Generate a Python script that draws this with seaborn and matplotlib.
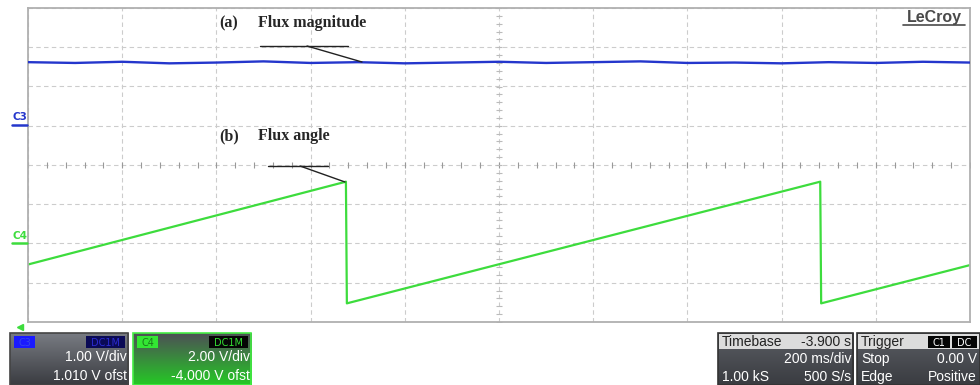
import numpy as np
import matplotlib
matplotlib.use("Agg")
import matplotlib.pyplot as plt
import seaborn as sns
from matplotlib.patches import Rectangle
from matplotlib.colors import LinearSegmentedColormap

# C3 : flux magnitude (V), 200 ms/div
mag_t = [0.0, 0.1, 0.2, 0.3, 0.4, 0.5, 0.6, 0.7, 0.8, 0.9, 1.0,
         1.1, 1.2, 1.3, 1.4, 1.5, 1.6, 1.7, 1.8, 1.9, 2.0]
mag_v = [1.62, 1.60, 1.63, 1.59, 1.61, 1.64, 1.60, 1.62, 1.59, 1.61, 1.63,
         1.60, 1.62, 1.64, 1.60, 1.61, 1.59, 1.62, 1.60, 1.63, 1.61]

# C4 : flux angle (V ~ rad), sawtooth between -pi and pi
ang_t = [0.0, 0.675, 0.677, 1.682, 1.684, 2.0]
ang_v = [-1.07, 3.15, -3.05, 3.15, -3.05, -1.10]

# channel settings shown on the scope
c3_vdiv, c3_marker = 1.0, 1      # ground marker 1 div above centre
c4_vdiv, c4_marker = 2.0, -2     # ground marker 2 div below centre

sns.set_style("white")
fig = plt.figure(figsize=(9.8, 3.85), dpi=100)
W, H = 980, 385

def px_axes(x0, y0, x1, y1):
    return [x0 / W, 1 - y1 / H, (x1 - x0) / W, (y1 - y0) / H]

ax = fig.add_axes(px_axes(28, 8, 970, 322))
ax.set_xlim(0, 2.0)
ax.set_ylim((-4 - c4_marker) * c4_vdiv, (4 - c4_marker) * c4_vdiv)
ax.set_xticks(np.arange(0, 2.001, 0.2))
ax.set_yticks(np.arange(-4, 12.001, 2))
ax.tick_params(length=0, labelbottom=False, labelleft=False)
ax.grid(True, ls=(0, (4, 3)), color="#cccccc", lw=0.8)
for s in ax.spines.values():
    s.set_color("#b0b0b0")
    s.set_linewidth(1.3)

# centre-line graticule ticks
cy = (ax.get_ylim()[0] + ax.get_ylim()[1]) / 2
ax.plot(np.arange(0, 2.001, 0.04), [cy] * 51, ls="none", marker="|",
        ms=5, mew=0.8, color="#999999")
ax.plot([1.0] * 41, np.arange(-4, 12.001, 0.4), ls="none", marker="_",
        ms=4, mew=0.8, color="#bbbbbb")

sns.lineplot(x=ang_t, y=ang_v, ax=ax, color="#3ddc3d", lw=1.6)

ax2 = ax.twinx()
ax2.set_ylim((-4 - c3_marker) * c3_vdiv, (4 - c3_marker) * c3_vdiv)
ax2.axis("off")
sns.lineplot(x=mag_t, y=mag_v, ax=ax2, color="#2436cc", lw=1.7)

# overlay in pixel coordinates for labels and status panels
ov = fig.add_axes([0, 0, 1, 1], zorder=5)
ov.patch.set_alpha(0)

serif = ["Liberation Serif", "DejaVu Serif"]
ov.text(219, 27, "(a)", family=serif, weight="bold", fontsize=11.5)
ov.text(258, 27, "Flux magnitude", family=serif, weight="bold", fontsize=11.5)
ov.plot([260, 348], [46, 46], color="#222222", lw=1)
ov.plot([307, 362], [46, 62], color="#222222", lw=1)
ov.text(219, 140, "(b)", family=serif, weight="bold", fontsize=11.5)
ov.text(258, 140, "Flux angle", family=serif, weight="bold", fontsize=11.5)
ov.plot([268, 328], [166, 166], color="#222222", lw=1)
ov.plot([300, 345], [166, 182], color="#222222", lw=1)

ov.text(934, 22, "LeCroy", ha="center", fontsize=11.5, weight="bold",
        family=["Liberation Sans", "DejaVu Sans"], color="#4a4a4a")
ov.plot([903, 965], [25, 25], color="#4a4a4a", lw=1.2)

ov.text(20, 120, "C3", ha="center", fontsize=7.5, weight="bold", color="#2436cc")
ov.plot([12, 27], [124.5, 124.5], color="#2436cc", lw=1.8)
ov.text(20, 239, "C4", ha="center", fontsize=7.5, weight="bold", color="#3ddc3d")
ov.plot([12, 27], [243, 243], color="#3ddc3d", lw=1.8)
ov.plot([20], [327], marker="<", ms=5, color="#3ddc3d")

grad = np.linspace(0, 1, 50).reshape(-1, 1)


def panel(x0, x1, c_top, c_bot, edge):
    cmap = LinearSegmentedColormap.from_list("p", [c_top, c_bot])
    ov.imshow(grad, extent=(x0, x1, 385, 333), cmap=cmap, aspect="auto")
    ov.add_patch(Rectangle((x0, 333), x1 - x0, 52, fill=False, ec=edge, lw=1.2))


def badge(x0, x1, y0, y1, fc, txt, tc):
    ov.add_patch(Rectangle((x0, y0), x1 - x0, y1 - y0, fc=fc, ec="none"))
    ov.text((x0 + x1) / 2, (y0 + y1) / 2 + 0.5, txt, ha="center", va="center",
            fontsize=7, color=tc)


sans = ["Liberation Sans", "DejaVu Sans"]
txt = dict(family=sans, fontsize=10, color="white", va="center")

panel(10, 128, "#787b82", "#3a3c41", "#444444")
badge(14, 35, 336, 348, "#1a1aff", "C3", "#3344ee")
badge(86, 125, 336, 348, "#0a0a55", "DC1M", "#2b2bd0")
ov.text(127, 357, "1.00 V/div", ha="right", **txt)
ov.text(127, 376, "1.010 V ofst", ha="right", **txt)

panel(133, 251, "#4d5055", "#25c825", "#44ee44")
badge(137, 158, 336, 348, "#33e633", "C4", "#1a7a1a")
badge(209, 248, 336, 348, "#050505", "DC1M", "#33dd33")
ov.text(250, 357, "2.00 V/div", ha="right", **txt)
ov.text(250, 376, "-4.000 V ofst", ha="right", **txt)

panel(718, 853, "#5a5d63", "#3a3c41", "#333333")
ov.add_patch(Rectangle((719, 334), 133, 15, fc="#dcdcdc", ec="none"))
ov.text(722, 342, "Timebase", ha="left", family=sans, fontsize=10,
        color="#222222", va="center")
ov.text(851, 342, "-3.900 s", ha="right", family=sans, fontsize=10,
        color="#222222", va="center")
ov.text(851, 359, "200 ms/div", ha="right", **txt)
ov.text(722, 377, "1.00 kS", ha="left", **txt)
ov.text(851, 377, "500 S/s", ha="right", **txt)

panel(857, 980, "#5a5d63", "#3a3c41", "#333333")
ov.add_patch(Rectangle((858, 334), 121, 15, fc="#dcdcdc", ec="none"))
ov.text(861, 342, "Trigger", ha="left", family=sans, fontsize=10,
        color="#222222", va="center")
badge(928, 950, 336, 348, "#050505", "C1", "white")
badge(952, 977, 336, 348, "#050505", "DC", "white")
ov.text(861, 359, "Stop", ha="left", **txt)
ov.text(977, 359, "0.00 V", ha="right", **txt)
ov.text(861, 377, "Edge", ha="left", **txt)
ov.text(977, 377, "Positive", ha="right", **txt)

ov.set_xlim(0, W)
ov.set_ylim(H, 0)
ov.axis("off")

fig.savefig("out.png", dpi=100)
